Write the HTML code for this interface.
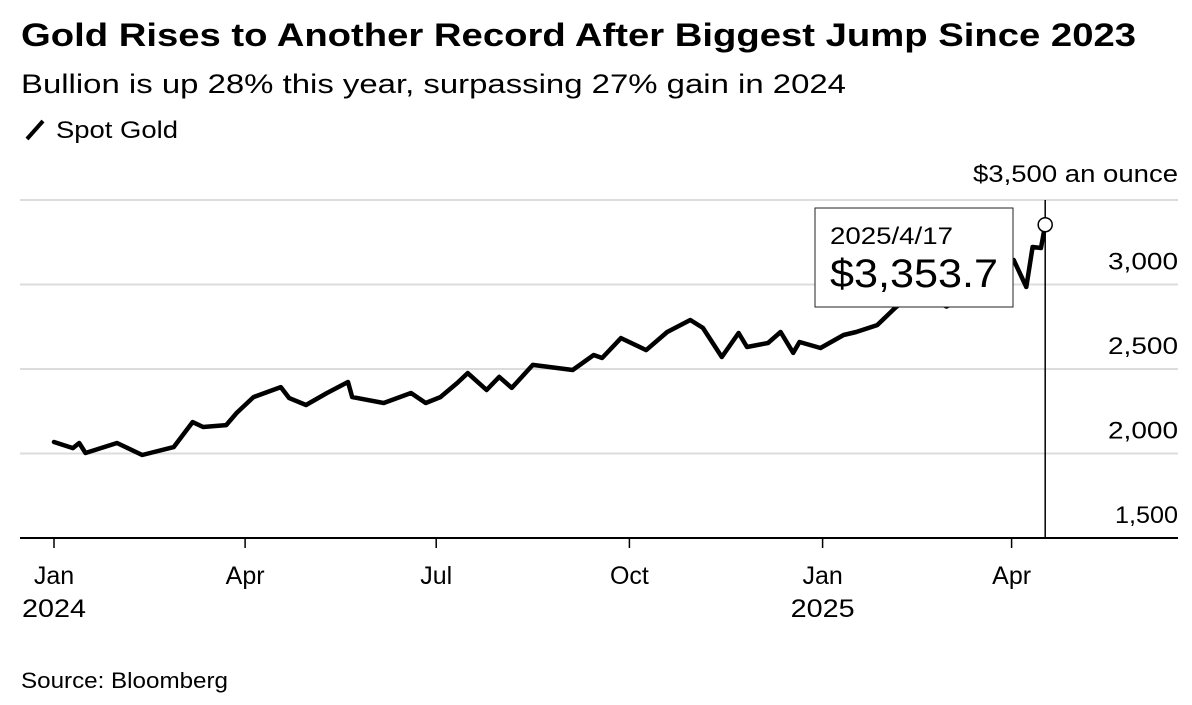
<!DOCTYPE html>
<html><head><meta charset="utf-8"><style>
body{margin:0;background:#fff;font-family:"Liberation Sans",Arial,sans-serif;}
svg text{font-family:"Liberation Sans",Arial,sans-serif;fill:#000;}
</style></head><body>
<svg id="chart" width="1192" height="700" viewBox="0 0 1192 700" xmlns="http://www.w3.org/2000/svg">
<text x="21" y="46" font-size="32" font-weight="bold" textLength="1115" lengthAdjust="spacingAndGlyphs">Gold Rises to Another Record After Biggest Jump Since 2023</text>
<text x="21" y="93" font-size="27" textLength="825" lengthAdjust="spacingAndGlyphs">Bullion is up 28% this year, surpassing 27% gain in 2024</text>
<g>
<line x1="27" y1="139" x2="43" y2="121" stroke="#000" stroke-width="4"/>
<text x="56" y="138" font-size="24" textLength="122" lengthAdjust="spacingAndGlyphs">Spot Gold</text>
</g>
<text x="973" y="182" font-size="24" textLength="205" lengthAdjust="spacingAndGlyphs">$3,500 an ounce</text>
<g id="grid"></g>
<g id="xaxis"></g>
<path id="line" fill="none" stroke="#000" stroke-width="4.5" stroke-linejoin="round" stroke-linecap="round"/>
<g id="tooltip"></g>
<text x="21" y="688" font-size="22" textLength="207" lengthAdjust="spacingAndGlyphs">Source: Bloomberg</text>
</svg>
<script>
const days=[0,9,12,15,30,42,57,66,71,82,87,95,108,112,120,130,140,142,157,170,177,184,192,197,206,212,218,228,247,257,261,270,282,292,303,309,318,326,330,340,346,352,355,365,376,382,392,401,408,415,425,434,443,450,457,463,466,470,472];
const values=[2068,2032,2062,2003,2062,1991,2038,2186,2157,2168,2240,2334,2393,2328,2287,2358,2423,2334,2299,2358,2299,2334,2417,2476,2376,2453,2388,2524,2494,2583,2565,2683,2612,2719,2790,2743,2571,2713,2630,2654,2719,2595,2660,2624,2701,2719,2760,2867,2930,2940,2870,2930,3020,3080,3145,2985,3222,3216,3353.7];
const yTicks=[1500,2000,2500,3000,3500];
const yTickLabels=["1,500","2,000","2,500","3,000",""];
const xTickDays=[0,91,182,274,366,456];
const xTickMonths=["Jan","Apr","Jul","Oct","Jan","Apr"];
const xTickYears=["2024","","","","2025",""];
const tipDate="2025/4/17";
const tipValue="$3,353.7";

const NS="http://www.w3.org/2000/svg";
const X=d=>54+d*2.1;
const Y=v=>538-(v-1500)*0.169;
function mk(tag,attrs,parent,txt){const e=document.createElementNS(NS,tag);for(const k in attrs)e.setAttribute(k,attrs[k]);if(txt!==undefined)e.textContent=txt;parent.appendChild(e);return e;}
const grid=document.getElementById('grid');
yTicks.forEach((t,i)=>{
  const l=mk('line',{x1:20,x2:1178,y1:Y(t),y2:Y(t),stroke:i===0?'#000':'#dcdcdc','stroke-width':2},grid);
  
  
  if(yTickLabels[i]){
    const w=yTickLabels[i][0]==='1'?63:70;
    const tx=mk('text',{x:1178-w,y:Y(t)-15,'font-size':24,textLength:w,lengthAdjust:'spacingAndGlyphs'},grid,yTickLabels[i]);
    
    
  }
});
const xa=document.getElementById('xaxis');
xTickDays.forEach((d,i)=>{
  const t=mk('line',{x1:X(d),x2:X(d),y1:538,y2:548,stroke:'#000','stroke-width':1.5},xa);
  
  
  const m=mk('text',{x:X(d),y:584,'font-size':25,'text-anchor':'middle'},xa,xTickMonths[i]);
  
  
  if(xTickYears[i]){
    const yy=mk('text',{x:X(d)-32,y:617,'font-size':25,textLength:64,lengthAdjust:'spacingAndGlyphs'},xa,xTickYears[i]);
    
    
  }
});
document.getElementById('line').setAttribute('d',days.map((d,i)=>(i?'L':'M')+X(d).toFixed(1)+','+Y(values[i]).toFixed(1)).join(''));
const tip=document.getElementById('tooltip');
const ld=days[days.length-1],lv=values[values.length-1];
const vl=mk('line',{x1:X(ld),x2:X(ld),y1:200,y2:538,stroke:'#000','stroke-width':1.5},tip);


const box=mk('rect',{x:815,y:208,width:198,height:99,fill:'#fff',stroke:'#222','stroke-width':1},tip);


const t1=mk('text',{x:830,y:244,'font-size':24,textLength:123,lengthAdjust:'spacingAndGlyphs'},tip,tipDate);


const t2=mk('text',{x:830,y:287,'font-size':40,textLength:168,lengthAdjust:'spacingAndGlyphs'},tip,tipValue);


const c=mk('circle',{cx:X(ld),cy:Y(lv),r:7,fill:'#fff',stroke:'#000','stroke-width':1.5},tip);


</script>
</body></html>
